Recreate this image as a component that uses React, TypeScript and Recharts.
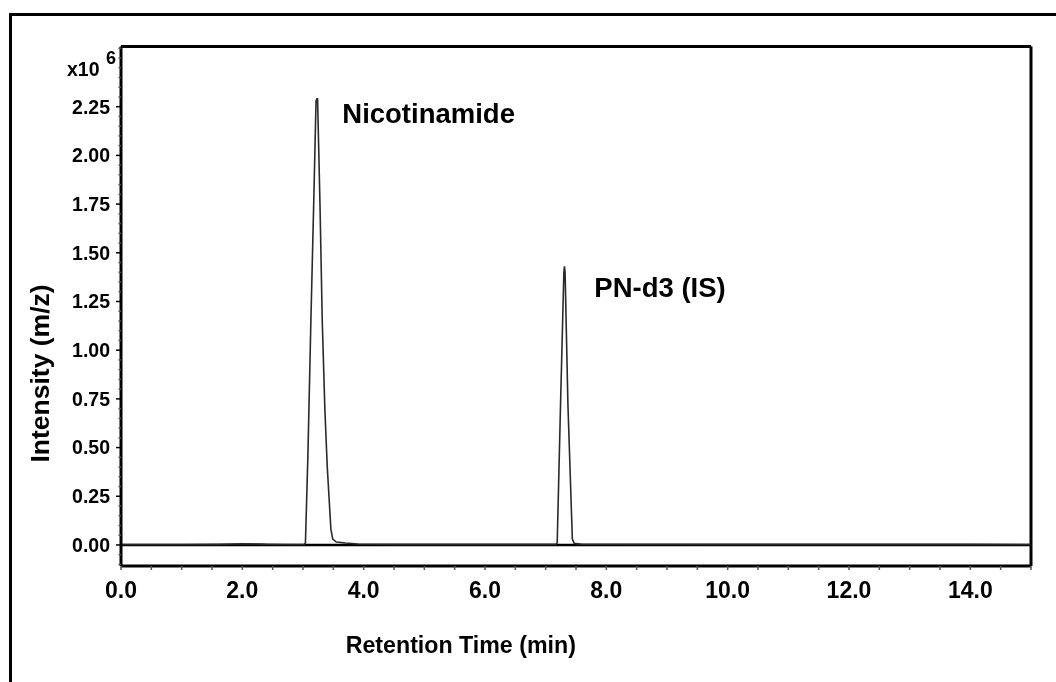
import React from 'react'
import { LineChart, Line, XAxis, YAxis, ReferenceLine, ReferenceDot, Customized } from 'recharts'

// chromatogram trace (min, x10^6)
const retentionTime = [
  0, 1.0, 1.6, 2.0, 2.4, 2.8, 3.02, 3.04, 3.08, 3.13, 3.18, 3.215, 3.23, 3.24,
  3.28, 3.317, 3.36, 3.40, 3.46, 3.49, 3.55, 3.7, 3.9, 4.5, 7.0, 7.17, 7.19,
  7.245, 7.30, 7.31, 7.32, 7.367, 7.44, 7.47, 7.6, 10.0, 14.0, 15.0,
]
const intensity = [
  0.002, 0.002, 0.003, 0.006, 0.004, 0.002, 0.003, 0.01, 0.45, 1.15, 1.8, 2.28, 2.29, 2.29,
  1.75, 1.155, 0.7, 0.4, 0.08, 0.03, 0.015, 0.01, 0.005, 0.003, 0.003, 0.003, 0.01,
  0.72, 1.4, 1.43, 1.4, 0.72, 0.03, 0.008, 0.004, 0.003, 0.003, 0.002,
]

const xMajorTicks = [0, 2, 4, 6, 8, 10, 12, 14]
const yMajorTicks = [0, 0.25, 0.5, 0.75, 1.0, 1.25, 1.5, 1.75, 2.0, 2.25]

const peakNames = ['Nicotinamide', 'PN-d3 (IS)']
const peakLabelTime = [3.565, 7.72]
const peakLabelIntensity = [2.218, 1.322]

const X_DOMAIN = [0, 15]
const Y_DOMAIN = [-0.108, 2.559]

const xMinorTicks = Array.from({ length: 31 }, (_, i) => i * 0.5)
const yMinorTicks = Array.from({ length: 54 }, (_, i) => Math.round((i * 0.05 - 0.1) * 100) / 100)

const data = retentionTime.map((t, i) => ({ t, y: intensity[i] }))

const FONT = '"Liberation Sans", Arial, Helvetica, sans-serif'
const Y_TICK_SIZE = 5
const Y_TICK_MARGIN = 6
const X_TICK_SIZE = 4
const X_TICK_MARGIN = 12

const isMajor = (list: number[], v: number) => list.some((m) => Math.abs(m - v) < 1e-6)

function YTick(props: any) {
  const { x, y, payload } = props
  const major = isMajor(yMajorTicks, payload.value)
  const axisX = x + Y_TICK_SIZE + Y_TICK_MARGIN
  return (
    <g>
      <line x1={axisX - (major ? Y_TICK_SIZE : 2.5)} x2={axisX} y1={y} y2={y} stroke={major ? '#000' : '#555'} strokeWidth={1.5} />
      {major && (
        <text x={x} y={y} dy="0.355em" textAnchor="end" fontFamily={FONT} fontWeight="bold" fontSize={19.5} fill="#000">
          {payload.value.toFixed(2)}
        </text>
      )}
    </g>
  )
}

function XTick(props: any) {
  const { x, y, payload } = props
  const major = isMajor(xMajorTicks, payload.value)
  const axisY = y - X_TICK_SIZE - X_TICK_MARGIN
  return (
    <g>
      <line x1={x} x2={x} y1={axisY} y2={axisY + X_TICK_SIZE} stroke="#555" strokeWidth={1.5} />
      {major && (
        <text x={x} y={y} dy="0.71em" textAnchor="middle" fontFamily={FONT} fontWeight="bold" fontSize={23} fill="#000">
          {payload.value.toFixed(1)}
        </text>
      )}
    </g>
  )
}

function StaticText() {
  return (
    <g fontFamily={FONT} fontWeight="bold" fill="#000">
      <text x={59} y={61} dy="0.355em" fontSize={19.5}>x10</text>
      <text x={98} y={49.5} dy="0.355em" fontSize={18}>6</text>
      <text x={452.8} y={637} dy="0.355em" textAnchor="middle" fontSize={23.2}>Retention Time (min)</text>
      <text transform="translate(32,365.5) rotate(-90)" dy="0.355em" textAnchor="middle" fontSize={26.5}>Intensity (m/z)</text>
    </g>
  )
}

export default function App() {
  return (
    <div style={{ position: 'relative', width: 1040, height: 666 }}>
      <style>{'body{overflow:hidden}'}</style>
      <div
        style={{
          position: 'fixed',
          left: 9,
          top: 13,
          right: -30,
          bottom: -30,
          border: '3px solid #000',
          boxSizing: 'border-box',
        }}
      />
      <div style={{ position: 'absolute', left: 0, top: 0 }}>
        <LineChart width={1040} height={660} data={data} margin={{ top: 38.5, right: 17, bottom: 2, left: 0 }}>
          <XAxis
            dataKey="t"
            type="number"
            domain={X_DOMAIN}
            ticks={xMinorTicks}
            interval={0}
            allowDataOverflow
            height={100}
            tickSize={X_TICK_SIZE}
            tickMargin={X_TICK_MARGIN}
            tickLine={false}
            tick={<XTick />}
            axisLine={{ stroke: '#000', strokeWidth: 3 }}
          />
          <YAxis
            type="number"
            domain={Y_DOMAIN}
            ticks={yMinorTicks}
            interval={0}
            allowDataOverflow
            width={113}
            tickSize={Y_TICK_SIZE}
            tickMargin={Y_TICK_MARGIN}
            tickLine={false}
            tick={<YTick />}
            axisLine={{ stroke: '#000', strokeWidth: 3 }}
          />
          {/* plot frame: top and right edges */}
          <ReferenceLine y={Y_DOMAIN[1]} stroke="#000" strokeWidth={3} ifOverflow="extendDomain" />
          <ReferenceLine x={X_DOMAIN[1]} stroke="#000" strokeWidth={3} ifOverflow="extendDomain" />
          <ReferenceLine y={0} stroke="#000" strokeWidth={2.5} />
          <Line
            type="linear"
            dataKey="y"
            stroke="#2a2a2a"
            strokeWidth={1.6}
            dot={false}
            activeDot={false}
            isAnimationActive={false}
          />
          {peakNames.map((name, i) => (
            <ReferenceDot
              key={name}
              x={peakLabelTime[i]}
              y={peakLabelIntensity[i]}
              r={0}
              stroke="none"
              fill="none"
              label={{ value: name, position: 'right', fontFamily: FONT, fontWeight: 'bold', fontSize: 27.5, fill: '#000' }}
            />
          ))}
          <Customized component={StaticText} />
        </LineChart>
      </div>
    </div>
  )
}
